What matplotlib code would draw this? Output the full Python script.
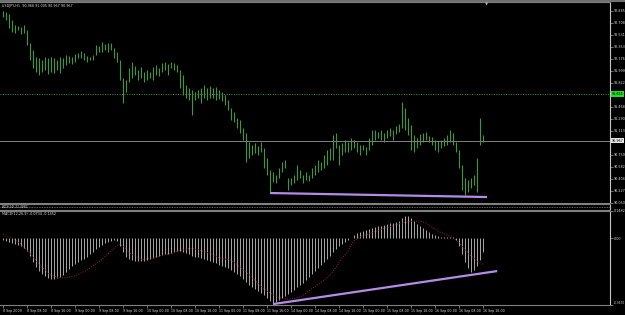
import numpy as np
import matplotlib
matplotlib.use("Agg")
import matplotlib.pyplot as plt
from matplotlib.lines import Line2D
import matplotlib.transforms as mtransforms

# ---- data (USDJPY H1, MT4) ----
symbol_info = "USDJPY,H1  90.968 91.005 90.967 90.967"
macd_info = "MACD(12,26,9) -0.0734 -0.1452"
strip_info = "ADX(14) 21.4882"

highs = [92.88, 92.86, 92.83, 92.75, 92.67, 92.66, 92.64, 92.67, 92.60, 92.41,
         92.30, 92.20, 92.19, 92.16, 92.20, 92.19, 92.20, 92.19, 92.16, 92.20,
         92.19, 92.23, 92.21, 92.20, 92.24, 92.26, 92.29, 92.26, 92.21, 92.20,
         92.23, 92.38, 92.36, 92.42, 92.39, 92.41, 92.41, 92.33, 92.27, 92.16,
         91.89, 91.86, 92.04, 92.13, 92.07, 92.01, 92.05, 91.98, 92.01, 91.98,
         92.05, 92.08, 92.04, 92.11, 92.13, 92.10, 92.13, 92.11, 92.08, 92.01,
         91.93, 91.79, 91.74, 91.71, 91.68, 91.71, 91.74, 91.79, 91.74, 91.77,
         91.74, 91.76, 91.71, 91.68, 91.64, 91.57, 91.45, 91.39, 91.30, 91.27,
         91.15, 91.08, 90.95, 90.90, 90.93, 90.89, 90.95, 90.86, 90.71, 90.54,
         90.51, 90.46, 90.56, 90.65, 90.68, 90.42, 90.42, 90.46, 90.61, 90.53,
         90.46, 90.51, 90.46, 90.56, 90.61, 90.68, 90.65, 90.76, 90.83, 90.86,
         91.05, 91.08, 90.90, 90.93, 90.98, 90.95, 91.01, 90.98, 90.95, 90.90,
         90.90, 90.87, 91.01, 91.12, 91.12, 91.09, 91.12, 91.08, 91.12, 91.15,
         91.12, 91.18, 91.21, 91.54, 91.45, 91.30, 91.20, 91.05, 91.01, 91.07,
         91.08, 91.09, 91.04, 91.02, 90.98, 90.96, 90.98, 91.01, 91.05, 91.12,
         91.08, 90.95, 90.83, 90.61, 90.42, 90.39, 90.42, 90.46, 90.71, 91.30,
         91.05]
lows = [92.79, 92.75, 92.63, 92.57, 92.55, 92.60, 92.54, 92.55, 92.38, 92.16,
        92.04, 91.98, 91.93, 91.98, 92.01, 91.95, 91.98, 91.96, 92.01, 91.96,
        92.04, 92.08, 92.11, 92.10, 92.13, 92.19, 92.19, 92.16, 92.13, 92.16,
        92.16, 92.23, 92.27, 92.27, 92.30, 92.27, 92.30, 92.19, 92.13, 91.86,
        91.52, 91.68, 91.83, 91.89, 91.93, 91.86, 91.89, 91.83, 91.86, 91.89,
        91.86, 91.93, 91.92, 91.98, 92.01, 91.93, 92.04, 92.01, 91.98, 91.74,
        91.64, 91.60, 91.57, 91.35, 91.57, 91.60, 91.52, 91.60, 91.57, 91.60,
        91.60, 91.57, 91.58, 91.55, 91.49, 91.42, 91.27, 91.24, 91.15, 91.08,
        90.98, 90.65, 90.71, 90.76, 90.79, 90.76, 90.80, 90.56, 90.46, 90.21,
        90.36, 90.34, 90.42, 90.51, 90.56, 90.24, 90.31, 90.34, 90.39, 90.42,
        90.34, 90.39, 90.37, 90.42, 90.46, 90.51, 90.53, 90.56, 90.61, 90.68,
        90.68, 90.86, 90.61, 90.76, 90.80, 90.80, 90.83, 90.86, 90.80, 90.76,
        90.83, 90.76, 90.83, 90.90, 90.98, 91.01, 90.98, 90.95, 91.01, 91.04,
        90.98, 91.06, 91.09, 91.15, 91.12, 91.05, 90.83, 90.80, 90.86, 90.90,
        90.95, 90.98, 90.95, 90.90, 90.83, 90.80, 90.86, 90.89, 90.90, 90.95,
        90.90, 90.80, 90.56, 90.24, 90.17, 90.21, 90.27, 90.31, 90.21, 90.90,
        90.95]

macd_hist = [-0.011, -0.016, -0.022, -0.027, -0.033, -0.038, -0.044, -0.055, -0.071, -0.099,
             -0.132, -0.159, -0.181, -0.197, -0.208, -0.219, -0.225, -0.225, -0.219, -0.214,
             -0.203, -0.186, -0.170, -0.153, -0.142, -0.132, -0.121, -0.115, -0.104, -0.088,
             -0.077, -0.060, -0.049, -0.038, -0.027, -0.022, -0.016, -0.011, -0.016, -0.044,
             -0.077, -0.104, -0.115, -0.121, -0.126, -0.126, -0.126, -0.126, -0.121, -0.115,
             -0.110, -0.104, -0.099, -0.093, -0.088, -0.088, -0.082, -0.077, -0.071, -0.071,
             -0.077, -0.082, -0.088, -0.099, -0.104, -0.104, -0.110, -0.115, -0.121, -0.126,
             -0.132, -0.137, -0.148, -0.153, -0.159, -0.164, -0.175, -0.186, -0.197, -0.208,
             -0.225, -0.241, -0.258, -0.269, -0.279, -0.290, -0.301, -0.312, -0.329, -0.345,
             -0.356, -0.351, -0.340, -0.329, -0.318, -0.307, -0.296, -0.285, -0.269, -0.258,
             -0.247, -0.230, -0.214, -0.197, -0.181, -0.164, -0.148, -0.132, -0.115, -0.099,
             -0.077, -0.060, -0.044, -0.033, -0.022, -0.011, 0.000, 0.016, 0.027, 0.033,
             0.038, 0.044, 0.049, 0.055, 0.060, 0.066, 0.066, 0.071, 0.077, 0.082,
             0.082, 0.088, 0.093, 0.110, 0.121, 0.121, 0.110, 0.093, 0.077, 0.066,
             0.055, 0.044, 0.033, 0.022, 0.016, 0.011, 0.005, 0.005, 0.005, 0.005,
             0.005, -0.011, -0.044, -0.088, -0.132, -0.164, -0.186, -0.175, -0.153, -0.121,
             -0.077]
macd_signal = [0.022, 0.016, 0.008, 0.000, -0.011, -0.022, -0.033, -0.049, -0.066, -0.082,
               -0.104, -0.121, -0.142, -0.159, -0.175, -0.192, -0.203, -0.208, -0.214, -0.216,
               -0.219, -0.219, -0.214, -0.211, -0.206, -0.200, -0.192, -0.184, -0.175, -0.164,
               -0.153, -0.140, -0.129, -0.115, -0.101, -0.088, -0.071, -0.055, -0.041, -0.033,
               -0.044, -0.060, -0.077, -0.090, -0.099, -0.107, -0.115, -0.118, -0.115, -0.112,
               -0.110, -0.104, -0.099, -0.093, -0.090, -0.088, -0.085, -0.079, -0.074, -0.069,
               -0.066, -0.060, -0.058, -0.058, -0.060, -0.063, -0.069, -0.074, -0.079, -0.082,
               -0.090, -0.099, -0.107, -0.112, -0.115, -0.118, -0.123, -0.134, -0.145, -0.159,
               -0.173, -0.186, -0.200, -0.216, -0.233, -0.249, -0.263, -0.277, -0.290, -0.301,
               -0.310, -0.318, -0.326, -0.332, -0.334, -0.334, -0.334, -0.332, -0.326, -0.323,
               -0.315, -0.301, -0.288, -0.277, -0.266, -0.252, -0.241, -0.230, -0.216, -0.203,
               -0.181, -0.159, -0.132, -0.110, -0.093, -0.071, -0.038, -0.016, -0.005, 0.005,
               0.011, 0.019, 0.025, 0.030, 0.036, 0.041, 0.047, 0.052, 0.058, 0.063,
               0.069, 0.074, 0.079, 0.082, 0.085, 0.088, 0.090, 0.093, 0.093, 0.093,
               0.088, 0.082, 0.071, 0.060, 0.049, 0.038, 0.030, 0.025, 0.016, 0.008,
               0.000, -0.011, -0.027, -0.044, -0.063, -0.082, -0.099, -0.112, -0.126, -0.137,
               -0.145]

time_labels = ["8 Sep 2009", "8 Sep 08:00", "8 Sep 16:00", "9 Sep 00:00", "9 Sep 08:00",
               "9 Sep 16:00", "10 Sep 00:00", "10 Sep 08:00", "10 Sep 16:00", "11 Sep 00:00",
               "11 Sep 08:00", "11 Sep 16:00", "14 Sep 00:00", "14 Sep 08:00", "14 Sep 16:00",
               "15 Sep 00:00", "15 Sep 08:00", "15 Sep 16:00", "16 Sep 00:00", "16 Sep 08:00",
               "16 Sep 16:00"]
bars_per_label = 8

price_axis_low, price_axis_high = 90.050, 92.885
bid = 90.967
level = 91.656
# trend lines drawn on the chart (bar index, value)
price_trend_x = [89, 161.3]
price_trend_y = [90.197, 90.138]
macd_trend_x = [90, 164.7]
macd_trend_y = [-0.362, -0.181]
macd_top, macd_bottom = 0.1482, -0.3670

# ---- layout (pixels of a 625x315 picture) ----
W, H = 625, 315
BG = "black"
GRID = "#808080"
TXT = "#d8d8d8"
BAR = "#3c983c"
FS = 2.4


def px_box(x0, y0, x1, y1):
    return [x0 / W, 1 - y1 / H, (x1 - x0) / W, (y1 - y0) / H]


fig = plt.figure(figsize=(W / 100, H / 100), dpi=100, facecolor=BG)
ax = fig.add_axes(px_box(0, 2, 610, 203))
ax_s = fig.add_axes(px_box(0, 204, 610, 210))
ax_m = fig.add_axes(px_box(0, 211, 610, 305))

idx = np.arange(len(highs))
xlim = (-1, 202.3)

for a in (ax, ax_s, ax_m):
    a.set_facecolor(BG)
    a.set_xlim(*xlim)
    for s in a.spines.values():
        s.set_color(GRID)
        s.set_linewidth(0.8)
    a.spines["left"].set_visible(False)
    a.spines["right"].set_color("#c8c8c8")
    a.tick_params(axis="x", bottom=False, labelbottom=False)
    a.yaxis.tick_right()
    a.tick_params(axis="y", colors=GRID, labelcolor=TXT, length=2, width=0.6,
                  labelsize=FS, pad=0.8)

# main price panel
ax.vlines(idx, lows, highs, color=BAR, lw=0.8)
ax.set_ylim(price_axis_low, 93.013)
ticks = np.linspace(price_axis_low, price_axis_high, 17)
# MT4 hides the scale labels that sit under the price boxes
ticks = [t for t in ticks if abs(t - level) > 0.09 and abs(t - bid) > 0.09]
ax.set_yticks(ticks)
ax.set_yticklabels([f"{t:.3f}" for t in ticks])
ax.axhline(level, color=BAR, lw=0.7, ls=(0, (1, 1.5)))
ax.axhline(bid, color=GRID, lw=0.7)
ax.plot(price_trend_x, price_trend_y, color="#b48ce6", lw=1.6, solid_capstyle="butt")
ax.text(0.004, 0.99, symbol_info, transform=ax.transAxes, va="top", ha="left",
        fontsize=FS, color=TXT)
ax.text(161.3, 93.013, "\u25bc", ha="center", va="top", fontsize=3, color="#b0b0b0")
ytr = mtransforms.blended_transform_factory(ax.transAxes, ax.transData)
ax.text(1.003, level, f"{level:.3f}", transform=ytr, va="center", ha="left",
        fontsize=FS, color="black",
        bbox=dict(boxstyle="square,pad=0.2", fc="#22e022", ec="none"))
ax.text(1.003, bid, f"{bid:.3f}", transform=ytr, va="center", ha="left",
        fontsize=FS, color="black",
        bbox=dict(boxstyle="square,pad=0.2", fc="#e8e8e8", ec="none"))

# collapsed indicator strip
ax_s.set_ylim(0, 1)
ax_s.set_yticks([])
ax_s.axhline(0.5, color=GRID, lw=0.6, ls=(0, (1, 1)))
ax_s.text(0.004, 0.5, strip_info, transform=ax_s.transAxes, va="center", ha="left",
          fontsize=2.2, color=TXT)

# MACD panel
ax_m.vlines(idx, 0, macd_hist, color="#a8a8a8", lw=0.7)
ax_m.plot(np.arange(len(macd_signal)), macd_signal, color="#9a2626", lw=0.7,
          ls=(0, (1, 1.5)))
ax_m.plot(macd_trend_x, macd_trend_y, color="#b48ce6", lw=1.6, solid_capstyle="butt")
ax_m.set_ylim(macd_bottom, macd_top)
ax_m.set_yticks([macd_top, 0.0, macd_bottom])
ax_m.set_yticklabels([f"{macd_top:.4f}", "0.00", f"{macd_bottom:.4f}"])
ylabs = ax_m.get_yticklabels()
ylabs[-1].set_fontsize(2.1)
ylabs[-1].set_va("bottom")
ax_m.text(0.004, 0.985, macd_info, transform=ax_m.transAxes, va="top", ha="left",
          fontsize=FS, color=TXT)

ax_m.tick_params(axis="x", bottom=True, labelbottom=True, colors=GRID,
                 labelcolor=TXT, length=2, width=0.6, labelsize=2.3, pad=1)
xt = [k * bars_per_label for k in range(len(time_labels))]
ax_m.set_xticks(xt)
ax_m.set_xticklabels(time_labels)
for lab in ax_m.get_xticklabels():
    lab.set_ha("left")

# top border of the chart window
fig.add_artist(Line2D([0, 1], [1 - 1 / H, 1 - 1 / H], color="#707070", lw=1.5))

fig.savefig("out.png", dpi=100, facecolor=BG)
